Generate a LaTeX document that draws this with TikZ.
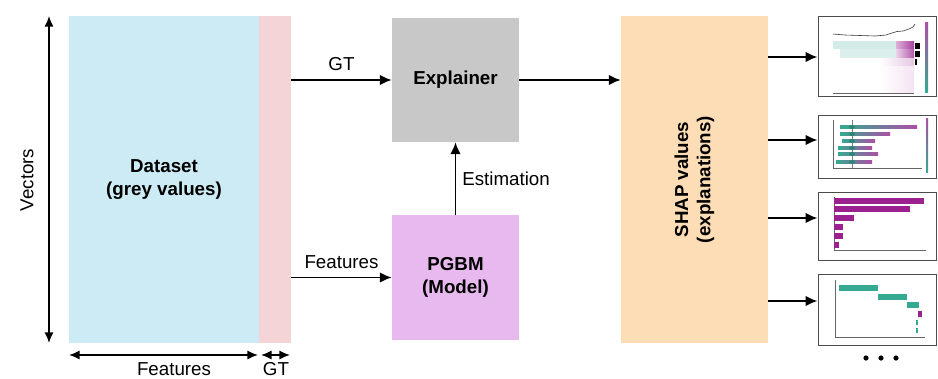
\documentclass[tikz,border=0pt]{standalone}
\usepackage{fontspec}
\setmainfont{Liberation Sans}
\usepackage{xcolor}
\usetikzlibrary{arrows.meta, positioning}
\definecolor{dataBlue}{HTML}{CCEBF4}
\definecolor{gtPink}{HTML}{F4D4D6}
\definecolor{explGrey}{HTML}{C8C8C8}
\definecolor{pgbmViolet}{HTML}{E8B9EE}
\definecolor{shapPeach}{HTML}{FDDDB5}
\definecolor{shapPurple}{HTML}{9B2190}
\definecolor{shapTeal}{HTML}{35A991}
\tikzset{
  blockbox/.style={
    draw=none, fill=#1, inner sep=0pt,
    align=center, font=\fontsize{16}{19}\selectfont\bfseries
  },
  thumb/.style={draw=black!70, line width=0.8pt, fill=white, inner sep=0pt},
  arr/.style={-{Latex[length=3.6mm, width=3.2mm]}, line width=1.6pt},
  dimarr/.style={{Latex[length=3.2mm, width=2.8mm]}-{Latex[length=3.2mm, width=2.8mm]}, line width=1.6pt},
  bar/.style={fill=#1, draw=none}
}

\begin{document}
\begin{tikzpicture}[
  x=0.03cm, y=-0.03cm,
  every node/.append style={font=\fontsize{16}{19}\selectfont},
  arrlabel/.style={inner sep=1pt},
  axisline/.style={draw=black!60, line width=0.4pt}
]
\useasboundingbox (0,0) rectangle (938,378);

% Dataset and ground truth
\node[blockbox=dataBlue, minimum width=5.7cm, minimum height=9.81cm] (data) at (164,179.5) {Dataset\\(grey values)};
\node[blockbox=gtPink, minimum width=0.96cm, minimum height=9.81cm] (gt) at (275,179.5) {};

% Dimension arrows
\coordinate (vtop) at (49,16);
\coordinate (vbot) at (49,343);
\draw[dimarr] (vtop) -- (vbot);
\node[rotate=90] (vlabel) at (27,180) {Vectors};
\coordinate (fl) at (69,355);
\coordinate (fr) at (258,355);
\coordinate (gl) at (261,355);
\coordinate (gr) at (290,355);
\draw[dimarr] (fl) -- (fr);
\draw[dimarr] (gl) -- (gr);
\node (flabel) at (174,369) {Features};
\node (glabel) at (276,369) {GT};

% Explainer and model
\node[blockbox=explGrey, minimum width=3.81cm, minimum height=3.72cm] (expl) at (455.5,80) {Explainer};
\node[blockbox=pgbmViolet, minimum width=3.81cm, minimum height=3.75cm] (pgbm) at (455.5,277.5) {PGBM\\(Model)};

\draw[arr] (gt.east |- expl.west) -- (expl.west) node[arrlabel, midway, above=6pt] (gtl) {GT};
\draw[arr] (gt.east |- pgbm.west) -- (pgbm.west) node[arrlabel, midway, above=6pt] (ftl) {Features};
\draw[arr] (pgbm.north) -- (expl.south) node[arrlabel, midway, right=4pt] (estl) {Estimation};

% SHAP values
\node[blockbox=shapPeach, minimum width=4.41cm, minimum height=9.81cm] (shap) at (694.5,179.5) {};
\node[rotate=90, font=\fontsize{16}{19}\selectfont\bfseries, align=center] (shapl) at (shap) {SHAP values\\(explanations)};
\draw[arr] (expl.east) -- (shap.west |- expl.east);

% Explanation plots
\node[thumb, minimum width=3.54cm, minimum height=2.4cm] (plot1) at (877,56) {};
\node[thumb, minimum width=3.54cm, minimum height=1.89cm] (plot2) at (877,146.5) {};
\node[thumb, minimum width=3.54cm, minimum height=2.04cm] (plot3) at (877,226) {};
\node[thumb, minimum width=3.54cm, minimum height=2.13cm] (plot4) at (877,309.5) {};

\draw[arr] (shap.east |- 0,57) -- (plot1.west |- 0,57);
\draw[arr] (shap.east |- 0,140) -- (plot2.west |- 0,140);
\draw[arr] (shap.east |- 0,218) -- (plot3.west |- 0,218);
\draw[arr] (shap.east |- 0,301) -- (plot4.west |- 0,301);

% Heatmap
\draw[black!80, line width=0.5pt] (833,34) -- (845,35) -- (860,35.5) -- (875,36) -- (886,35) -- (892,33) -- (897,31.5) -- (903,31) -- (909,29) -- (913,27) -- (915,24);
\fill[shapTeal!22] (833,41) rectangle (896,49);
\fill[shapTeal!18] (840,49) rectangle (896,58);
\shade[left color=shapPurple!35, right color=shapPurple!85] (896,41) rectangle (914,49);
\shade[left color=shapPurple!20, right color=shapPurple!75] (896,49) rectangle (914,58);
\shade[left color=white, right color=shapPurple!25] (880,58) rectangle (914,66);
\shade[left color=white, right color=shapPurple!12] (880,66) rectangle (914,92);
\fill[black] (915,43) rectangle (920,49);
\fill[black] (915,51) rectangle (920,57);
\fill[black] (915,59) rectangle (917,65);
\draw[axisline] (833,93) -- (914,93);
\shade[top color=shapPurple!80, bottom color=shapTeal] (925,22) rectangle (928,92);

% Beeswarm
\draw[axisline] (833,120) -- (833,168) -- (922,168);
\draw[black!50, line width=0.3pt] (852,120) -- (852,168);
\foreach \y/\xa/\xb in {127/840/917, 134/840/890, 141/842/875, 148/838/872, 154/838/878, 162/836/872}
  \shade[left color=shapTeal, right color=shapPurple!80] (\xa,\y-1.2) rectangle (\xb,\y+1.2);
\foreach \y in {127,134,141,148,154,162}
  \fill[shapTeal!80!black] (852,\y) ellipse (3 and 2);
\shade[top color=shapPurple!80, bottom color=shapTeal] (926,118) rectangle (928,172);

% Bar chart
\draw[axisline] (834,197) -- (834,250) -- (926,250);
\foreach \y/\xb in {201/924, 209/910, 218/854, 227/843, 236/843, 245/839}
  \fill[shapPurple] (834,\y-2.6) rectangle (\xb,\y+2.6);

% Waterfall
\draw[axisline] (835,280) -- (835,337) -- (925,337);
\fill[shapTeal] (839,285) rectangle (878,291);
\fill[shapTeal] (878,294) rectangle (907,300);
\fill[shapTeal] (907,302) rectangle (919,308);
\fill[shapPurple] (918,311) rectangle (922,317);
\fill[shapTeal] (916,320) rectangle (918,325);
\fill[shapTeal] (916,328) rectangle (918,333);

% More plots
\foreach \x [count=\i] in {866,881,896}
  \fill (\x,358) circle (2.6) coordinate (dot\i);

\end{tikzpicture}
\end{document}
